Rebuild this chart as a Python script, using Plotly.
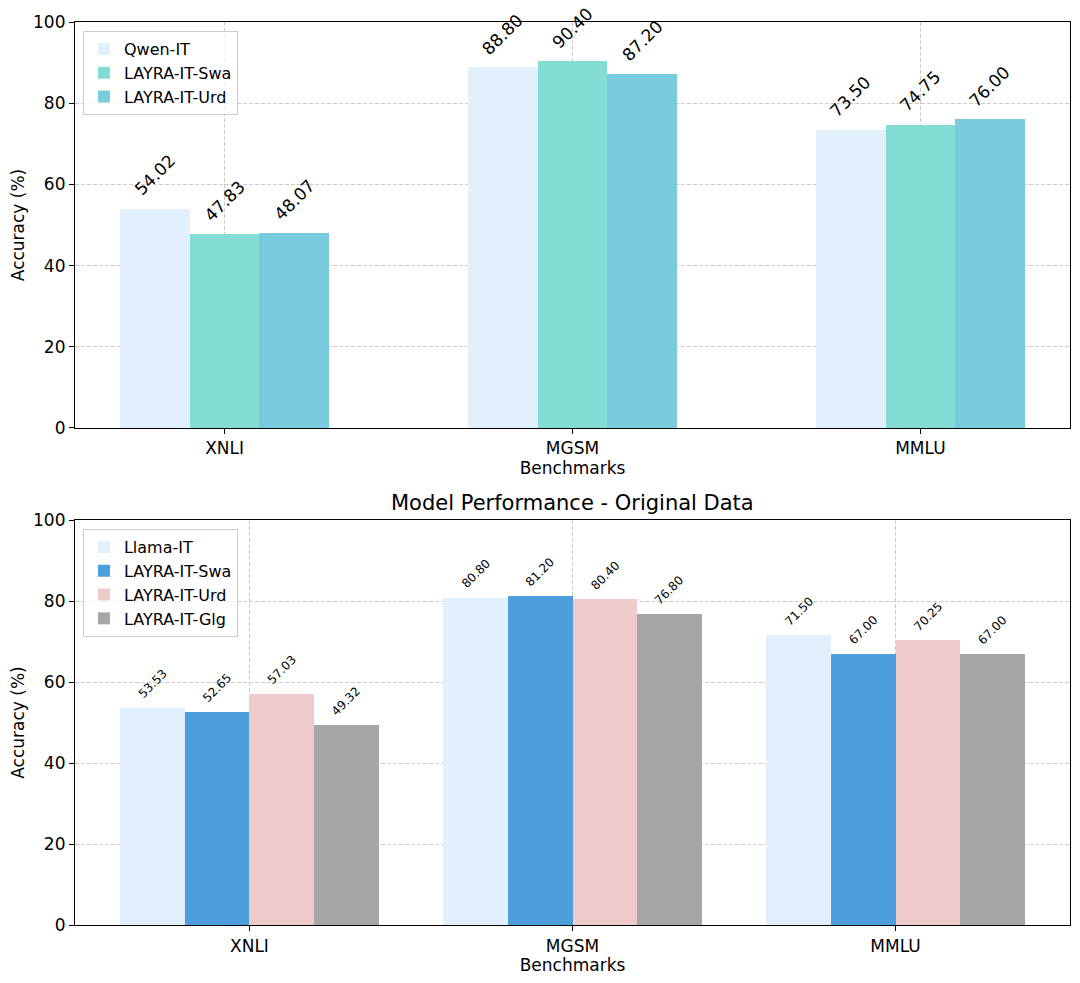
import plotly.graph_objects as go

categories = ["XNLI", "MGSM", "MMLU"]

top_series = ["Qwen-IT", "LAYRA-IT-Swa", "LAYRA-IT-Urd"]
top_values = [
    [54.02, 88.80, 73.50],
    [47.83, 90.40, 74.75],
    [48.07, 87.20, 76.00],
]
top_colors = ["#E1F0FC", "#83DDD5", "#7ACBDD"]

bot_series = ["Llama-IT", "LAYRA-IT-Swa", "LAYRA-IT-Urd", "LAYRA-IT-Glg"]
bot_values = [
    [53.53, 80.80, 71.50],
    [52.65, 81.20, 67.00],
    [57.03, 80.40, 70.25],
    [49.32, 76.80, 67.00],
]
bot_colors = ["#E1F0FC", "#4C9EDC", "#EFCACA", "#A6A6A6"]

FONT = "DejaVu Sans"
W = 0.2

fig = go.Figure()
annotations = []

# top subplot
n = len(top_series)
for i, (name, vals, col) in enumerate(zip(top_series, top_values, top_colors)):
    off = -W * n / 2 + i * W
    fig.add_trace(go.Bar(
        x=categories, y=vals, name=name, width=W, offset=off,
        marker=dict(color=col, line=dict(width=0)),
        xaxis="x", yaxis="y", legend="legend",
    ))
    for j, v in enumerate(vals):
        annotations.append(dict(
            x=j + off + W / 2, y=v, xref="x", yref="y", text=f"{v:.2f}",
            showarrow=False, textangle=-45, xanchor="center", yanchor="bottom",
            yshift=6, font=dict(size=17, color="black", family=FONT),
        ))

# bottom subplot
n = len(bot_series)
for i, (name, vals, col) in enumerate(zip(bot_series, bot_values, bot_colors)):
    off = -W * n / 2 + i * W
    fig.add_trace(go.Bar(
        x=categories, y=vals, name=name, width=W, offset=off,
        marker=dict(color=col, line=dict(width=0)),
        xaxis="x2", yaxis="y2", legend="legend2",
    ))
    for j, v in enumerate(vals):
        annotations.append(dict(
            x=j + off + W / 2, y=v, xref="x2", yref="y2", text=f"{v:.2f}",
            showarrow=False, textangle=-45, xanchor="center", yanchor="bottom",
            yshift=4, font=dict(size=12, color="black", family=FONT),
        ))

annotations.append(dict(
    x=0.5, y=0.4485, xref="paper", yref="paper", text="Model Performance - Original Data",
    showarrow=False, xanchor="center", yanchor="bottom", yshift=3,
    font=dict(size=21, color="black", family=FONT),
))

axis_common = dict(
    showline=True, linecolor="black", linewidth=1.2, mirror=True,
    ticks="outside", ticklen=5, tickcolor="black",
    showgrid=True, gridcolor="rgba(190,190,190,0.8)", griddash="4px,2px", gridwidth=1,
    tickfont=dict(size=17, color="black", family=FONT),
    layer="above traces", zeroline=False, automargin=False,
)

fig.update_layout(
    width=1072, height=975,
    margin=dict(l=67, r=10, t=14, b=58),
    paper_bgcolor="white", plot_bgcolor="white",
    barmode="overlay",
    font=dict(family=FONT, color="black"),
    xaxis=dict(axis_common, domain=[0, 1], anchor="y", range=[-0.43, 2.43],
               title=dict(text="Benchmarks", font=dict(size=17, family=FONT), standoff=0)),
    yaxis=dict(axis_common, domain=[0.5504, 1], anchor="x", range=[0, 100],
               tickvals=[0, 20, 40, 60, 80, 100],
               title=dict(text="Accuracy (%)", font=dict(size=17, family=FONT), standoff=8)),
    xaxis2=dict(axis_common, domain=[0, 1], anchor="y2", range=[-0.54, 2.54],
                title=dict(text="Benchmarks", font=dict(size=17, family=FONT), standoff=0)),
    yaxis2=dict(axis_common, domain=[0, 0.4485], anchor="x2", range=[0, 100],
                tickvals=[0, 20, 40, 60, 80, 100],
                title=dict(text="Accuracy (%)", font=dict(size=17, family=FONT), standoff=8)),
    legend=dict(x=0.008, y=0.99, xanchor="left", yanchor="top",
                bgcolor="rgba(255,255,255,0.8)", bordercolor="#CCCCCC", borderwidth=1,
                font=dict(size=16, color="black", family=FONT)),
    legend2=dict(x=0.008, y=0.4385, xanchor="left", yanchor="top",
                 bgcolor="rgba(255,255,255,0.8)", bordercolor="#CCCCCC", borderwidth=1,
                 font=dict(size=16, color="black", family=FONT)),
    annotations=annotations,
    bargap=0,
)

fig.write_html("out.html")
